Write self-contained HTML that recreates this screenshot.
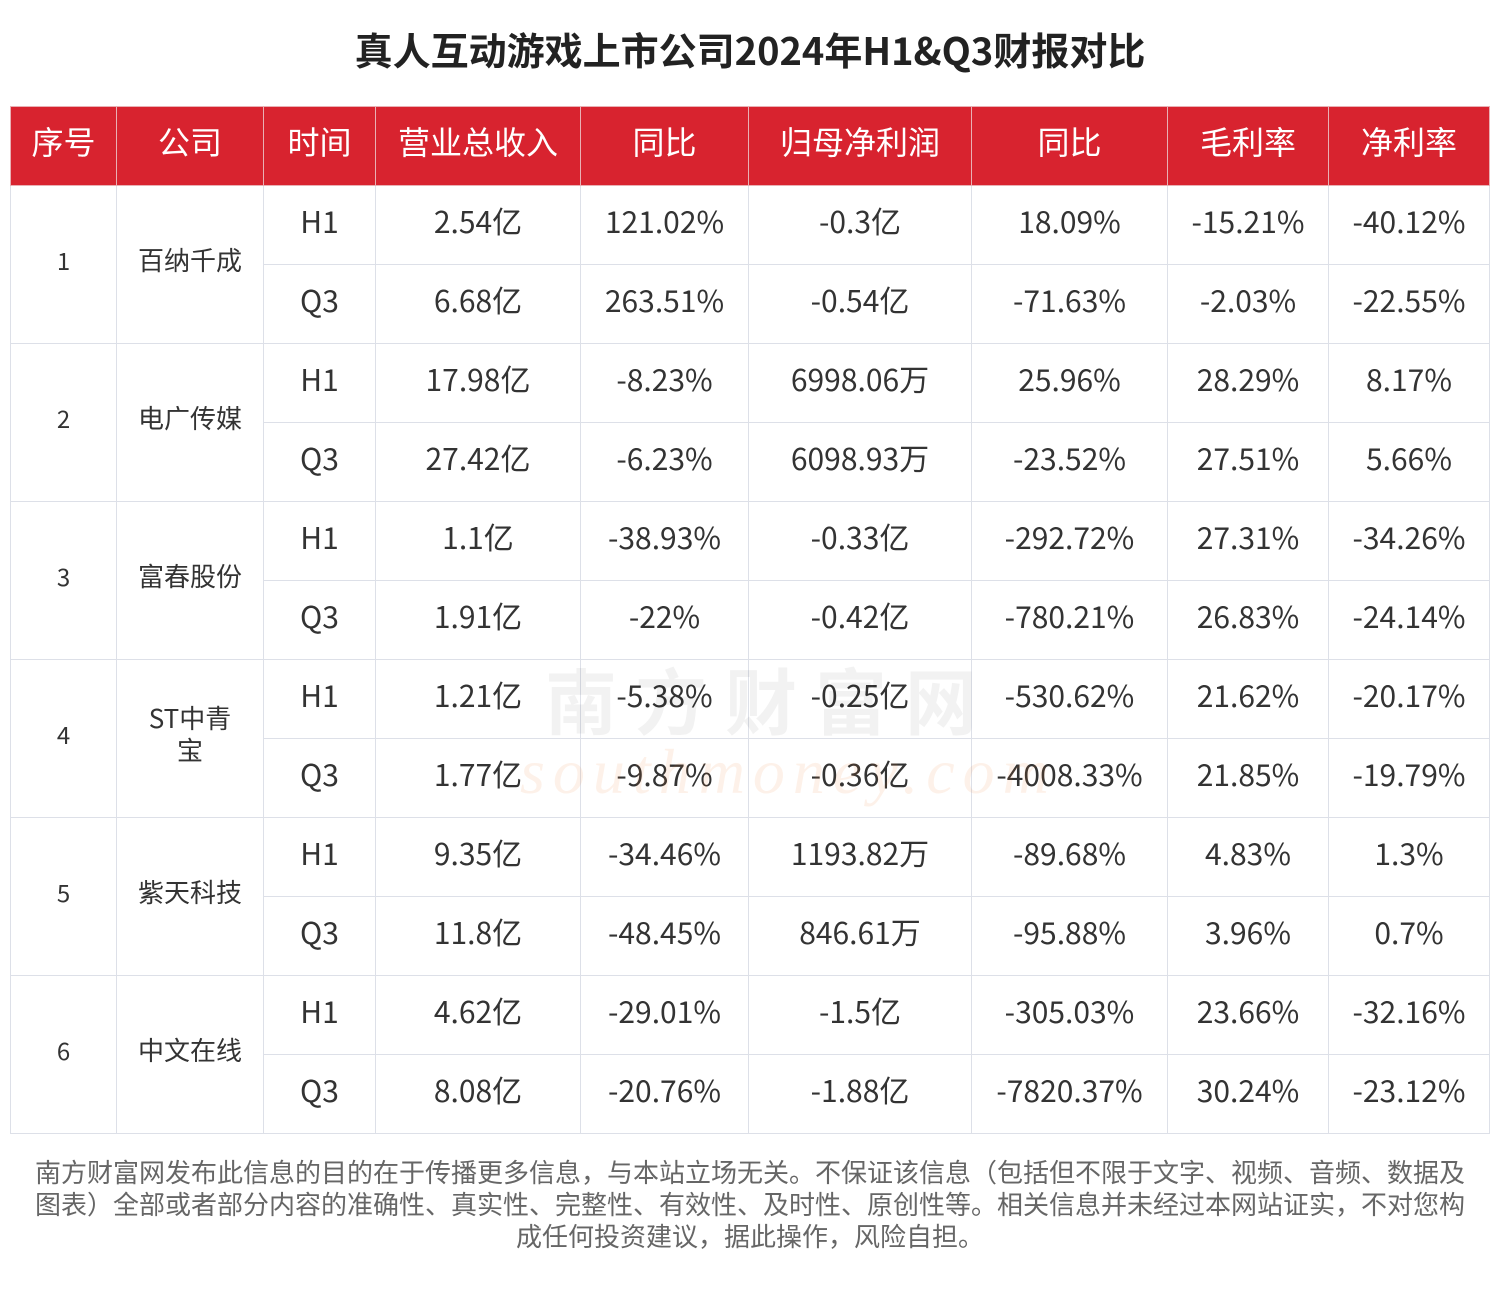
<!DOCTYPE html>
<html><head><meta charset="utf-8"><style>
body{margin:0;width:1500px;height:1297px;background:#fff;font-family:"Liberation Sans","Noto Sans CJK SC",sans-serif;overflow:hidden;position:relative}
h1{position:absolute;top:25px;left:0;width:1500px;margin:0;text-align:center;font-size:38px;font-weight:bold;color:#222;line-height:48px;font-family:"Noto Sans CJK SC",sans-serif}
table{position:absolute;left:10px;top:106px;border-collapse:collapse;table-layout:fixed}
th{background:#d8232f;color:#fff;font-weight:normal;font-size:32px;height:79px;border:1px solid #e9b0b4;padding:0 0 10px 0;box-sizing:border-box;font-family:"Noto Sans CJK SC",sans-serif;line-height:40px}
td{border:1px solid #dde0e8;height:79px;text-align:center;font-size:30px;color:#333;padding:0 0 10px 0;box-sizing:border-box;font-family:"Noto Sans CJK SC",sans-serif;line-height:36px}
td.c{font-size:26px;line-height:32px}td.n{font-size:24px}
.wm{position:absolute;left:545px;top:645px;font-size:72px;color:rgba(0,0,0,0.05);font-weight:bold;letter-spacing:18px;font-family:"Noto Sans CJK SC",sans-serif}
.wm2{position:absolute;left:520px;top:735px;font-size:64px;color:rgba(240,120,40,0.1);font-style:italic;font-family:"Liberation Serif",serif;letter-spacing:8px}
.foot{position:absolute;left:35px;top:1156px;width:1430px;text-align:center;font-size:26px;color:#666;line-height:32px;font-family:"Noto Sans CJK SC",sans-serif}
</style></head><body>
<h1>真人互动游戏上市公司2024年H1&amp;Q3财报对比</h1>
<table>
<colgroup><col style="width:106px"><col style="width:147px"><col style="width:112px"><col style="width:205px"><col style="width:168px"><col style="width:223px"><col style="width:196px"><col style="width:161px"><col style="width:161px"></colgroup>
<tr><th>序号</th><th>公司</th><th>时间</th><th>营业总收入</th><th>同比</th><th>归母净利润</th><th>同比</th><th>毛利率</th><th>净利率</th></tr>
<tr><td rowspan="2" class="n">1</td><td rowspan="2" class="c">百纳千成</td><td>H1</td><td>2.54亿</td><td>121.02%</td><td>-0.3亿</td><td>18.09%</td><td>-15.21%</td><td>-40.12%</td></tr>
<tr><td>Q3</td><td>6.68亿</td><td>263.51%</td><td>-0.54亿</td><td>-71.63%</td><td>-2.03%</td><td>-22.55%</td></tr>
<tr><td rowspan="2" class="n">2</td><td rowspan="2" class="c">电广传媒</td><td>H1</td><td>17.98亿</td><td>-8.23%</td><td>6998.06万</td><td>25.96%</td><td>28.29%</td><td>8.17%</td></tr>
<tr><td>Q3</td><td>27.42亿</td><td>-6.23%</td><td>6098.93万</td><td>-23.52%</td><td>27.51%</td><td>5.66%</td></tr>
<tr><td rowspan="2" class="n">3</td><td rowspan="2" class="c">富春股份</td><td>H1</td><td>1.1亿</td><td>-38.93%</td><td>-0.33亿</td><td>-292.72%</td><td>27.31%</td><td>-34.26%</td></tr>
<tr><td>Q3</td><td>1.91亿</td><td>-22%</td><td>-0.42亿</td><td>-780.21%</td><td>26.83%</td><td>-24.14%</td></tr>
<tr><td rowspan="2" class="n">4</td><td rowspan="2" class="c">ST中青<br>宝</td><td>H1</td><td>1.21亿</td><td>-5.38%</td><td>-0.25亿</td><td>-530.62%</td><td>21.62%</td><td>-20.17%</td></tr>
<tr><td>Q3</td><td>1.77亿</td><td>-9.87%</td><td>-0.36亿</td><td>-4008.33%</td><td>21.85%</td><td>-19.79%</td></tr>
<tr><td rowspan="2" class="n">5</td><td rowspan="2" class="c">紫天科技</td><td>H1</td><td>9.35亿</td><td>-34.46%</td><td>1193.82万</td><td>-89.68%</td><td>4.83%</td><td>1.3%</td></tr>
<tr><td>Q3</td><td>11.8亿</td><td>-48.45%</td><td>846.61万</td><td>-95.88%</td><td>3.96%</td><td>0.7%</td></tr>
<tr><td rowspan="2" class="n">6</td><td rowspan="2" class="c">中文在线</td><td>H1</td><td>4.62亿</td><td>-29.01%</td><td>-1.5亿</td><td>-305.03%</td><td>23.66%</td><td>-32.16%</td></tr>
<tr><td>Q3</td><td>8.08亿</td><td>-20.76%</td><td>-1.88亿</td><td>-7820.37%</td><td>30.24%</td><td>-23.12%</td></tr>
</table>
<div class="wm">南方财富网</div>
<div class="wm2">southmoney.com</div>
<div class="foot">南方财富网发布此信息的目的在于传播更多信息，与本站立场无关。不保证该信息（包括但不限于文字、视频、音频、数据及图表）全部或者部分内容的准确性、真实性、完整性、有效性、及时性、原创性等。相关信息并未经过本网站证实，不对您构成任何投资建议，据此操作，风险自担。</div>
</body></html>
